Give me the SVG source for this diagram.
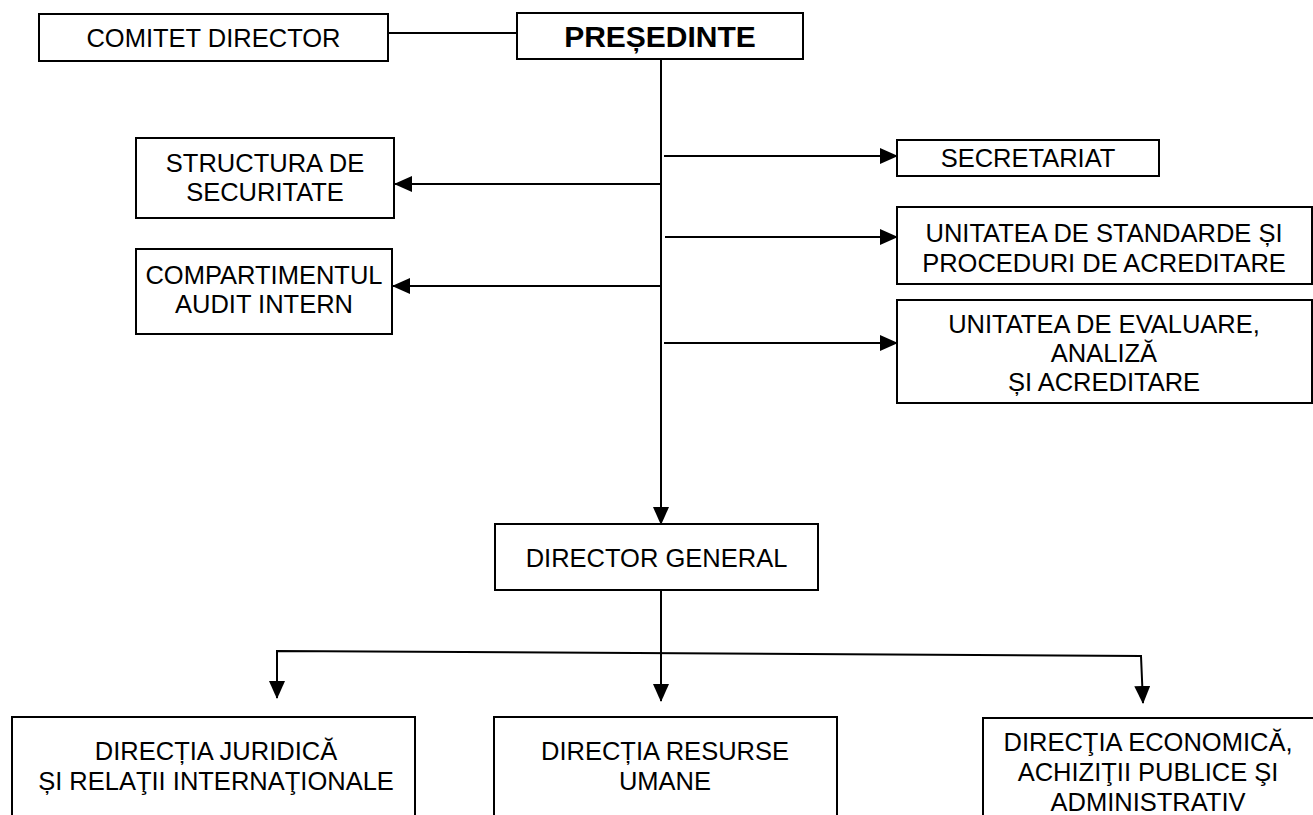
<svg xmlns="http://www.w3.org/2000/svg" width="1313" height="815" viewBox="0 0 1313 815">
<style>
  .box { fill: #ffffff; stroke: #000000; stroke-width: 2; }
  .t { font-family: "Liberation Sans", Arial, sans-serif; font-size: 25.5px; fill: #000000; text-anchor: middle; }
  .b { font-weight: bold; font-size: 30px; }
  .ln { fill: none; stroke: #000000; stroke-width: 2; }
</style>
<defs>
  <marker id="ah" markerWidth="18" markerHeight="16" refX="17" refY="8" orient="auto" markerUnits="userSpaceOnUse">
    <path d="M0,0 L18,8 L0,16 Z" fill="#000000"/>
  </marker>
</defs>
<rect width="1313" height="815" fill="#ffffff"/>
<g id="connectors">
  <line class="ln" x1="388" y1="33" x2="517" y2="33"/>
  <line class="ln" x1="661" y1="59" x2="661" y2="524" marker-end="url(#ah)"/>
  <line class="ln" x1="661" y1="184" x2="395" y2="184" marker-end="url(#ah)"/>
  <line class="ln" x1="661" y1="286" x2="393" y2="286" marker-end="url(#ah)"/>
  <line class="ln" x1="664" y1="156" x2="897" y2="156" marker-end="url(#ah)"/>
  <line class="ln" x1="665" y1="237" x2="897" y2="237" marker-end="url(#ah)"/>
  <line class="ln" x1="664" y1="343" x2="897" y2="343" marker-end="url(#ah)"/>
  <line class="ln" x1="661" y1="590" x2="661" y2="701" marker-end="url(#ah)"/>
  <polyline class="ln" points="277,698 277,651 1141,656 1143,703" marker-end="url(#ah)"/>
  <line class="ln" x1="277" y1="660" x2="277" y2="698" marker-end="url(#ah)"/>
</g>
<g id="comitet">
  <rect class="box" x="39" y="14" width="349" height="47"/>
  <text class="t" x="213.5" y="47">COMITET DIRECTOR</text>
</g>
<g id="presedinte">
  <rect class="box" x="517" y="13" width="286" height="46"/>
  <text class="t b" x="660" y="47">PREȘEDINTE</text>
</g>
<g id="structura">
  <rect class="box" x="136" y="138" width="258" height="80"/>
  <text class="t" x="265" y="172">STRUCTURA DE</text>
  <text class="t" x="265" y="201">SECURITATE</text>
</g>
<g id="audit">
  <rect class="box" x="136" y="249" width="256" height="85"/>
  <text class="t" x="264" y="284">COMPARTIMENTUL</text>
  <text class="t" x="264" y="313">AUDIT INTERN</text>
</g>
<g id="secretariat">
  <rect class="box" x="897" y="140" width="262" height="36"/>
  <text class="t" x="1028" y="167">SECRETARIAT</text>
</g>
<g id="standarde">
  <rect class="box" x="897" y="207" width="415" height="77"/>
  <text class="t" x="1104" y="242">UNITATEA DE STANDARDE ȘI</text>
  <text class="t" x="1104" y="272">PROCEDURI DE ACREDITARE</text>
</g>
<g id="evaluare">
  <rect class="box" x="897" y="300" width="415" height="103"/>
  <text class="t" x="1104" y="333">UNITATEA DE EVALUARE,</text>
  <text class="t" x="1104" y="362">ANALIZĂ</text>
  <text class="t" x="1104" y="391">ȘI ACREDITARE</text>
</g>
<g id="director-general">
  <rect class="box" x="495" y="524" width="323" height="66"/>
  <text class="t" x="656.5" y="567">DIRECTOR GENERAL</text>
</g>
<g id="juridica">
  <rect class="box" x="12" y="717" width="403" height="110"/>
  <text class="t" x="216" y="760">DIRECȚIA JURIDICĂ</text>
  <text class="t" x="216" y="790">ȘI RELAŢII INTERNAŢIONALE</text>
</g>
<g id="resurse">
  <rect class="box" x="494" y="717" width="343" height="110"/>
  <text class="t" x="665" y="760">DIRECȚIA RESURSE</text>
  <text class="t" x="665" y="790">UMANE</text>
</g>
<g id="economica">
  <rect class="box" x="983" y="718" width="340" height="110"/>
  <text class="t" x="1148" y="751">DIRECŢIA ECONOMICĂ,</text>
  <text class="t" x="1148" y="781">ACHIZIŢII PUBLICE ŞI</text>
  <text class="t" x="1148" y="811">ADMINISTRATIV</text>
</g>
</svg>
